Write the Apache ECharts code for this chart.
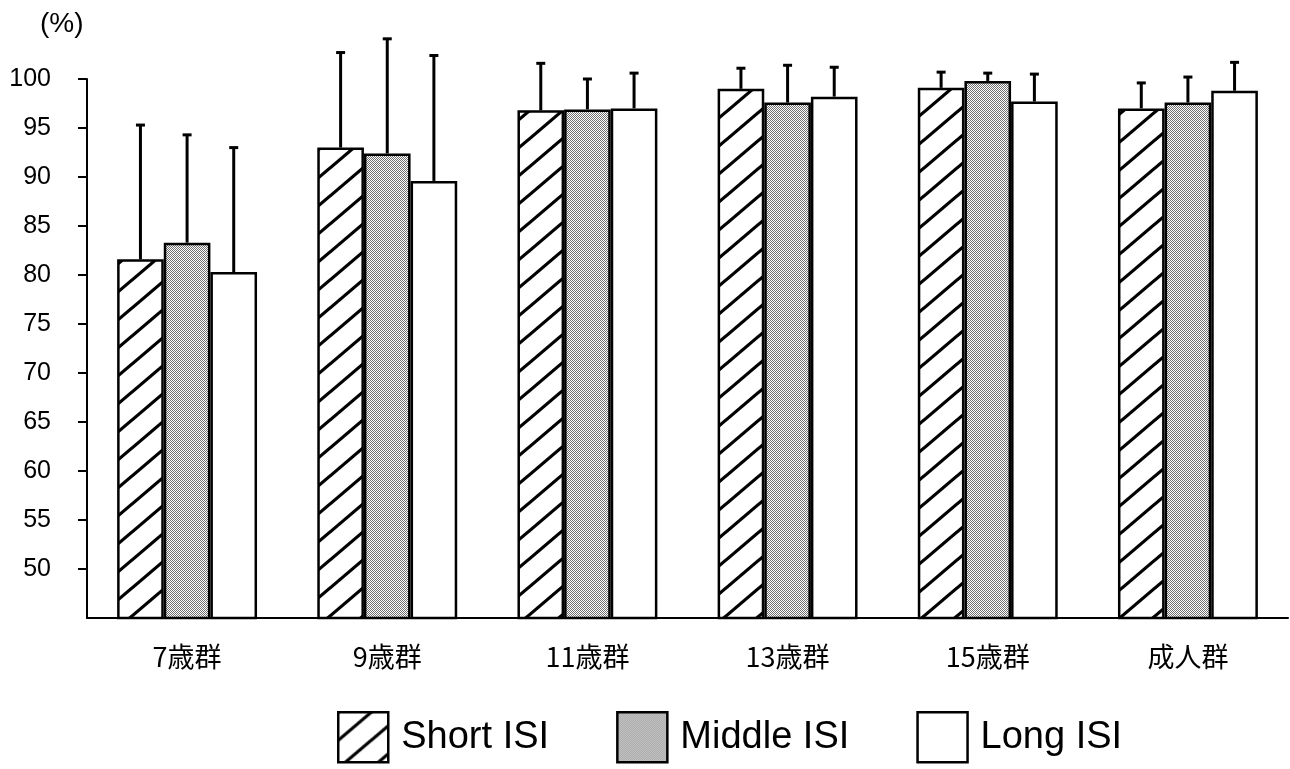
<!DOCTYPE html>
<html>
<head>
<meta charset="utf-8">
<script src="https://cdn.jsdelivr.net/npm/echarts@6/dist/echarts.min.js"></script>
<style>
html,body{margin:0;padding:0;background:#fff;}
#chart{width:1290px;height:769px;}
</style>
</head>
<body>
<div id="chart"></div>
<script>
// ---- data ----
const categories = ['7歳群', '9歳群', '11歳群', '13歳群', '15歳群', '成人群'];
const seriesNames = ['Short ISI', 'Middle ISI', 'Long ISI'];
const shortVals  = [81.6, 93.0, 96.8, 99.0, 99.1, 97.0];
const shortSD    = [13.7,  9.7,  4.8,  2.1,  1.6,  2.6];
const middleVals = [83.3, 92.4, 96.9, 97.6, 99.8, 97.6];
const middleSD   = [11.0, 11.7,  3.1,  3.8,  0.8,  2.6];
const longVals   = [80.3, 89.6, 97.0, 98.2, 97.7, 98.8];
const longSD     = [12.7, 12.8,  3.6,  3.0,  2.8,  2.9];
const yTicks = [45, 50, 55, 60, 65, 70, 75, 80, 85, 90, 95, 100];

const FONT = "'Liberation Sans', Arial, sans-serif";

// ---- patterns ----
function hatchPattern() {
  const W = 33, H = 28;
  const c = document.createElement('canvas');
  c.width = W; c.height = H;
  const g = c.getContext('2d');
  g.fillStyle = '#fff'; g.fillRect(0, 0, W, H);
  g.strokeStyle = '#000'; g.lineWidth = 3.2; g.lineCap = 'butt';
  for (let k = -1; k <= 1; k++) {
    g.beginPath();
    g.moveTo(-W, 2 * H + k * H);
    g.lineTo(2 * W, -H + k * H);
    g.stroke();
  }
  return c;
}
function stipplePattern() {
  const c = document.createElement('canvas');
  c.width = 4; c.height = 4;
  const g = c.getContext('2d');
  g.fillStyle = '#ffffff'; g.fillRect(0, 0, 4, 4);
  g.fillStyle = '#707070';
  const pts = [[0,0],[2,0],[1,1],[3,1],[0,2],[2,2],[1,3],[3,3]];
  pts.forEach(p => g.fillRect(p[0], p[1], 1, 1));
  return c;
}
const fills = [
  { image: hatchPattern(), repeat: 'repeat' },
  { image: stipplePattern(), repeat: 'repeat' },
  '#ffffff'
];

const vals = [shortVals, middleVals, longVals];
const sds = [shortSD, middleSD, longSD];
const BAR_FRAC = 0.233;

const errData = [];
for (let s = 0; s < 3; s++) {
  for (let i = 0; i < categories.length; i++) {
    errData.push([i, s, vals[s][i], sds[s][i]]);
  }
}

const barSeries = seriesNames.map((name, s) => ({
  name: name,
  type: 'bar',
  data: vals[s],
  barWidth: (BAR_FRAC * 100) + '%',
  barGap: '0%',
  itemStyle: { color: fills[s], borderColor: '#000', borderWidth: 2.5 },
  z: 2
}));

const chart = echarts.init(document.getElementById('chart'));
chart.setOption({
  animation: false,
  backgroundColor: '#fff',
  textStyle: { fontFamily: FONT, color: '#000' },
  grid: { left: 87, right: 2, top: 79, bottom: 151, containLabel: false },
  graphic: [{
    type: 'text', left: 40, top: 10,
    style: { text: '(%)', fontSize: 28, fill: '#000', fontFamily: FONT }
  }],
  legend: {
    data: seriesNames,
    left: 332, top: 706,
    itemWidth: 50, itemHeight: 50, itemGap: 67,
    icon: 'rect',
    itemStyle: { borderColor: '#000', borderWidth: 2.5 },
    textStyle: { fontSize: 38, color: '#000', padding: [0, 0, 0, 8], fontFamily: FONT }
  },
  xAxis: {
    type: 'category',
    data: categories,
    axisLine: { lineStyle: { color: '#000', width: 2 } },
    axisTick: { show: false },
    axisLabel: { fontSize: 27, color: '#000', margin: 25,
      fontFamily: "'Noto Sans CJK JP', sans-serif" },
    splitLine: { show: false }
  },
  yAxis: {
    type: 'value',
    min: yTicks[0], max: yTicks[yTicks.length - 1], interval: 5,
    axisLine: { show: true, lineStyle: { color: '#000', width: 2 } },
    axisTick: { show: true, length: 9, customValues: yTicks.slice(1),
      lineStyle: { color: '#000', width: 2 } },
    axisLabel: { fontSize: 25, color: '#000', margin: 36,
      customValues: yTicks.slice(1), fontFamily: FONT },
    splitLine: { show: false }
  },
  series: barSeries.concat([{
    type: 'custom',
    name: 'err',
    data: errData,
    encode: { x: 0, y: 2 },
    clip: false,
    z: 5,
    silent: true,
    renderItem: function (params, api) {
      const cat = api.value(0), s = api.value(1), v = api.value(2), sd = api.value(3);
      const band = api.size([1, 0])[0];
      const bw = band * BAR_FRAC;
      const base = api.coord([cat, v]);
      const top = api.coord([cat, v + sd]);
      const x = base[0] + (s - 1) * bw;
      const cap = 4.5;
      return {
        type: 'group',
        children: [
          { type: 'line', shape: { x1: x, y1: base[1], x2: x, y2: top[1] },
            style: { stroke: '#000', lineWidth: 3 } },
          { type: 'line', shape: { x1: x - cap, y1: top[1], x2: x + cap, y2: top[1] },
            style: { stroke: '#000', lineWidth: 3 } }
        ]
      };
    }
  }])
});
</script>
</body>
</html>
